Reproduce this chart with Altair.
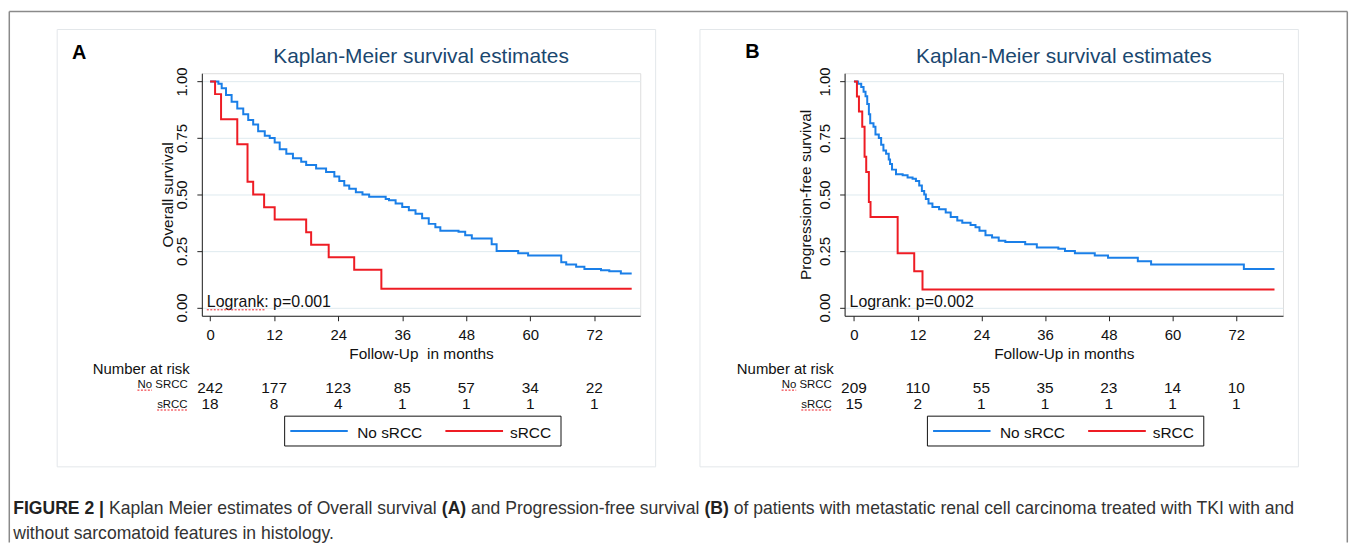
import altair as alt
import pandas as pd

FONT = "Liberation Sans, Arial, Helvetica, sans-serif"
BLUE = "#1a7fe8"
RED = "#ee1c24"
INK = "#111111"
TITLE_COLOR = "#1a476f"
GRID = "#dfeaef"
BOX = "#e3e7ea"

groups = ["No sRCC", "sRCC"]
months = [0, 12, 24, 36, 48, 60, 72]
y_ticks = [0, 0.25, 0.5, 0.75, 1.0]

# ---------------- Panel A: Overall survival ----------------
a_no_t = [0, 1.55, 2.17, 2.98, 4.03, 5.09, 6.21, 7.14, 8.07, 9.0, 10.24, 11.17, 12.1,
          13.04, 14.28, 15.52, 17.07, 18.0, 19.86, 21.73, 23.28, 24.21, 25.14, 26.07,
          27.31, 28.55, 29.8, 32.9, 33.52, 34.76, 36.0, 37.24, 38.49, 39.73, 40.97,
          42.21, 43.14, 46.55, 47.8, 49.04, 52.76, 53.69, 57.73, 59.59, 65.8, 66.73,
          68.59, 70.14, 73.25, 74.8, 76.97, 79.0]
a_no_s = [1.0, 0.99, 0.97, 0.94, 0.91, 0.88, 0.855, 0.83, 0.81, 0.78, 0.76, 0.75, 0.73,
          0.70, 0.68, 0.66, 0.645, 0.63, 0.615, 0.60, 0.58, 0.56, 0.54, 0.525,
          0.51, 0.50, 0.49, 0.48, 0.475, 0.46, 0.445, 0.43, 0.415, 0.395, 0.37,
          0.355, 0.34, 0.335, 0.32, 0.305, 0.28, 0.25, 0.24, 0.23, 0.20, 0.19,
          0.18, 0.17, 0.165, 0.16, 0.15, 0.15]
a_s_t = [0, 0.93, 2.05, 5.09, 7.01, 8.07, 10.12, 12.1, 18.0, 18.93, 22.22, 27.0, 32.09, 79.0]
a_s_s = [1.0, 0.944, 0.833, 0.722, 0.556, 0.5, 0.444, 0.389, 0.333, 0.278, 0.222, 0.167,
         0.083, 0.083]
a_risk_no = [242, 177, 123, 85, 57, 34, 22]
a_risk_s = [18, 8, 4, 1, 1, 1, 1]

# ---------------- Panel B: Progression-free survival ----------------
b_no_t = [0, 0.75, 1.37, 1.81, 2.18, 2.5, 2.81, 3.06, 3.68, 4.05, 4.68, 5.12, 5.55, 6.05,
          6.55, 6.8, 7.17, 7.92, 9.17, 10.1, 11.04, 11.67, 12.29, 12.79, 13.23, 13.54,
          14.04, 14.78, 16.03, 17.28, 18.22, 19.46, 20.4, 21.96, 22.89, 23.64, 24.77,
          26.01, 27.26, 28.51, 32.25, 34.44, 38.49, 39.74, 41.61, 45.35, 47.85, 53.46,
          55.96, 73.43, 79.2]
b_no_s = [1.0, 0.99, 0.975, 0.955, 0.935, 0.90, 0.855, 0.815, 0.80, 0.765, 0.75, 0.72,
          0.695, 0.68, 0.655, 0.635, 0.61, 0.59, 0.585, 0.575, 0.57, 0.56, 0.54, 0.515,
          0.50, 0.48, 0.46, 0.445, 0.435, 0.42, 0.40, 0.385, 0.375, 0.365, 0.355, 0.34,
          0.32, 0.31, 0.295, 0.29, 0.28, 0.265, 0.26, 0.25, 0.24, 0.23, 0.22, 0.205,
          0.19, 0.17, 0.17]
b_s_t = [0, 0.56, 0.94, 1.56, 2.0, 2.31, 2.81, 3.12, 8.23, 11.35, 12.91, 79.2]
b_s_s = [1.0, 0.933, 0.867, 0.8, 0.667, 0.6, 0.467, 0.4, 0.24, 0.16, 0.08, 0.08]
b_risk_no = [209, 110, 55, 35, 23, 14, 10]
b_risk_s = [15, 2, 1, 1, 1, 1, 1]

caption_line1 = [("FIGURE 2 |", True),
                 ("Kaplan Meier estimates of Overall survival", False),
                 ("(A)", True),
                 ("and Progression-free survival", False),
                 ("(B)", True),
                 ("of patients with metastatic renal cell carcinoma treated with TKI with and", False)]
caption_line2 = "without sarcomatoid features in histology."

# ---------------- geometry (layout only) ----------------
W, H = 441, 244
YDOM = [-0.0365, 1.0365]

W_REG = {' ': 278, '(': 333, ')': 333, '-': 333, '.': 278, '|': 260, ',': 278,
         'A': 667, 'B': 667, 'C': 722, 'D': 722, 'E': 667, 'F': 611, 'G': 778, 'H': 722,
         'I': 278, 'J': 500, 'K': 667, 'L': 556, 'M': 833, 'N': 722, 'O': 778, 'P': 667,
         'Q': 778, 'R': 722, 'S': 667, 'T': 611, 'U': 722, 'V': 667, 'W': 944, 'X': 667,
         'Y': 667, 'Z': 611,
         'a': 556, 'b': 556, 'c': 500, 'd': 556, 'e': 556, 'f': 278, 'g': 556, 'h': 556,
         'i': 222, 'j': 222, 'k': 500, 'l': 222, 'm': 833, 'n': 556, 'o': 556, 'p': 556,
         'q': 556, 'r': 333, 's': 500, 't': 278, 'u': 556, 'v': 500, 'w': 722, 'x': 500,
         'y': 500, 'z': 500}
W_BOLD = {' ': 278, '(': 333, ')': 333, '|': 280, 'A': 722, 'B': 722, 'E': 667, 'F': 611,
          'G': 778, 'I': 278, 'R': 722, 'U': 722}


def em_width(s, bold=False):
    tab = W_BOLD if bold else W_REG
    return sum(tab.get(c, W_REG.get(c, 556)) for c in s) / 1000.0


deco = pd.DataFrame({"k": [0]})
color_scale = alt.Scale(domain=groups, range=[BLUE, RED])


def curve_df(t_no, s_no, t_s, s_s):
    rows = [{"t": t, "s": s, "group": groups[0]} for t, s in zip(t_no, s_no)]
    rows += [{"t": t, "s": s, "group": groups[1]} for t, s in zip(t_s, s_s)]
    return pd.DataFrame(rows)


def label(text, x, y, size, align="left", color=INK, weight="normal", font=FONT):
    return alt.Chart(deco).mark_text(
        text=text, align=align, baseline="alphabetic", fontSize=size, color=color,
        fontWeight=weight, font=font
    ).encode(x=alt.value(x), y=alt.value(y))


def wavy(x1, x2, y):
    return alt.Chart(deco).mark_rule(color=RED, strokeWidth=1, strokeDash=[2, 1.5]).encode(
        x=alt.value(x1), x2=alt.value(x2), y=alt.value(y))


def legend_layers():
    lx, ly = 83.3, 345
    out = [alt.Chart(deco).mark_rect(fill="white", stroke="#111", strokeWidth=1).encode(
        x=alt.value(lx), x2=alt.value(lx + 278), y=alt.value(ly), y2=alt.value(ly + 30))]
    offsets = [(5.7, 63.5, 73), (161.7, 219.7, 226.7)]
    for g, (s0, s1, tx) in zip(groups, offsets):
        gdf = pd.DataFrame({"group": [g]})
        out.append(alt.Chart(gdf).mark_rule(strokeWidth=2).encode(
            x=alt.value(lx + s0), x2=alt.value(lx + s1), y=alt.value(ly + 15),
            color=alt.Color("group:N", scale=color_scale, legend=None)))
        out.append(alt.Chart(gdf).mark_text(align="left", baseline="alphabetic",
                                            fontSize=15.5, color=INK, font=FONT).encode(
            x=alt.value(lx + tx), y=alt.value(ly + 21.7), text="group:N"))
    return out


def panel(curve, risk_no, risk_s, xdom, ytitle, ytitle_x, xtitle, logrank, letter,
          letter_x, letter_y, lab_right, logrank_wavy):
    xscale = alt.Scale(domain=xdom, nice=False, zero=False)
    yscale = alt.Scale(domain=YDOM, nice=False, zero=False)
    xaxis = alt.Axis(values=months, format="d", title=xtitle, grid=False,
                     domainColor="#222", tickColor="#222", tickSize=5,
                     labelFontSize=15, labelColor=INK, labelFont=FONT,
                     labelBaseline="alphabetic", labelPadding=19, labelFlush=False,
                     labelOverlap=False,
                     titleFontSize=15.5, titleFontWeight="normal", titleColor=INK,
                     titleFont=FONT, titleX=W / 2, titleY=42.7, titleAlign="center",
                     titleBaseline="alphabetic")
    yaxis = alt.Axis(values=y_ticks, format=".2f", title=ytitle, grid=True,
                     gridColor=GRID, gridWidth=1,
                     domainColor="#222", tickColor="#222", tickSize=5,
                     labelFontSize=15, labelColor=INK, labelFont=FONT,
                     labelAngle=270, labelAlign="center", labelBaseline="alphabetic",
                     labelPadding=10, labelFlush=False, labelOverlap=False,
                     titleFontSize=15.5, titleFontWeight="normal", titleColor=INK,
                     titleFont=FONT, titleAngle=270, titleX=ytitle_x, titleY=H / 2,
                     titleAlign="center", titleBaseline="alphabetic")

    box = alt.Chart(deco).mark_rect(fillOpacity=0, stroke=BOX, strokeWidth=1).encode(
        x=alt.value(-145.5), x2=alt.value(456.5), y=alt.value(-44), y2=alt.value(396))

    lines = alt.Chart(curve).mark_line(interpolate="step-after", strokeWidth=2).encode(
        x=alt.X("t:Q", scale=xscale, axis=xaxis),
        y=alt.Y("s:Q", scale=yscale, axis=yaxis),
        color=alt.Color("group:N", scale=color_scale, legend=None),
    )

    df_no = pd.DataFrame({"t": months, "n": risk_no})
    df_s = pd.DataFrame({"t": months, "n": risk_s})
    r1 = alt.Chart(df_no).mark_text(fontSize=15.5, color=INK, baseline="alphabetic",
                                    font=FONT).encode(
        x=alt.X("t:Q", scale=xscale, axis=xaxis), text="n:Q", y=alt.value(321.2))
    r2 = alt.Chart(df_s).mark_text(fontSize=15.5, color=INK, baseline="alphabetic",
                                   font=FONT).encode(
        x=alt.X("t:Q", scale=xscale, axis=xaxis), text="n:Q", y=alt.value(337.4))

    layers = [box, lines, r1, r2,
              label("Number at risk", lab_right + 2, 302.3, 15, align="right"),
              label("No SRCC", lab_right, 316.7, 11.5, align="right"),
              label("sRCC", lab_right, 336.7, 11.5, align="right"),
              wavy(lab_right - 50.5, lab_right - 35.8, 318.8),
              wavy(lab_right - 30.7, lab_right, 338.8),
              label(logrank, 5, 235, 16),
              label("Kaplan-Meier survival estimates", W / 2, -10, 21, align="center",
                    color=TITLE_COLOR),
              label(letter, letter_x, letter_y, 20, weight="bold", color="#000")]
    layers += legend_layers()
    if logrank_wavy:
        layers.append(wavy(5, 63, 238))
    return layers


curve_a = curve_df(a_no_t, a_no_s, a_s_t, a_s_s)
curve_b = curve_df(b_no_t, b_no_s, b_s_t, b_s_s)

layers_a = panel(curve_a, a_risk_no, a_risk_s, [-1.55, 80.6], "Overall survival", -29.5,
                 "Follow-Up\u00a0 in months", "Logrank: p=0.001", "A", -130.7, -14, -14.3,
                 True)
layers_b = panel(curve_b, b_risk_no, b_risk_s, [-1.76, 80.8], "Progression-free survival",
                 -34.3, "Follow-Up in months", "Logrank: p=0.002", "B", -100, -15, -12.9,
                 False)

# outer figure frame and caption (drawn in panel A's coordinate space)
FL, FT, FR, FB = -193.7, -62, 1152.3, 472
frame = [
    alt.Chart(deco).mark_rule(color="#8a8a8a", strokeWidth=1.5).encode(
        x=alt.value(FL), y=alt.value(FT), y2=alt.value(FB)),
    alt.Chart(deco).mark_rule(color="#8a8a8a", strokeWidth=1.5).encode(
        x=alt.value(FL), x2=alt.value(FR), y=alt.value(FT)),
    alt.Chart(deco).mark_rule(color="#8a8a8a", strokeWidth=1.5).encode(
        x=alt.value(FR), y=alt.value(FT), y2=alt.value(FB)),
]

cap_left = -189.7
cap_width_px = 1289.0
space_em = W_REG[' '] / 1000.0
total_em = sum(em_width(s, b) for s, b in caption_line1) + space_em * (len(caption_line1) - 1)
cap_size = round(cap_width_px / total_em, 2)
caption = []
xpos = cap_left
for seg, bold in caption_line1:
    caption.append(label(seg, xpos, 443, cap_size, weight="bold" if bold else "normal",
                         color="#222" if bold else "#333"))
    xpos += (em_width(seg, bold) + space_em) * cap_size
caption.append(label(caption_line2, cap_left, 469, cap_size, color="#333"))

chart_a = alt.layer(*(layers_a + frame + caption)).properties(width=W, height=H)
chart_b = alt.layer(*layers_b).properties(width=W, height=H)

chart = alt.hconcat(chart_a, chart_b, spacing=205.6, bounds="flush").properties(
    padding={"left": 0, "top": 0, "right": 0, "bottom": 0}
).configure_view(stroke=None).configure(background="white", font=FONT)

chart.save("out.html", embed_options={"renderer": "svg", "actions": False})
